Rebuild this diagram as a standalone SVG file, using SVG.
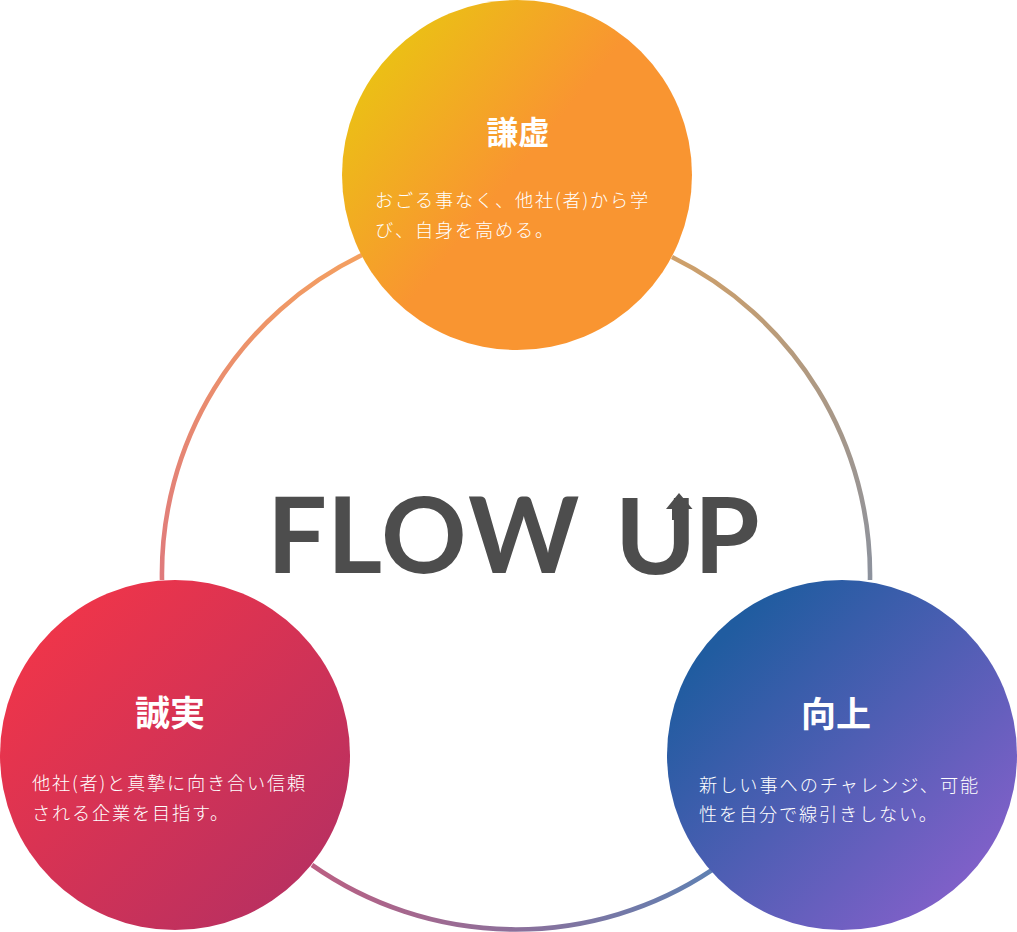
<svg xmlns="http://www.w3.org/2000/svg" width="1017" height="932" viewBox="0 0 1017 932">
<style>
.t{font-family:"Noto Sans CJK JP","Noto Sans",sans-serif;fill:#fff;font-weight:700;text-anchor:middle}
.b{font-family:"Noto Sans CJK JP","Noto Sans",sans-serif;fill:#fff;font-size:18.2px;font-weight:300;letter-spacing:1.8px}
.l{font-family:Lato,"Liberation Sans",sans-serif;fill:#4d4d4d;font-size:106px;font-weight:700}
</style>
<defs>
<linearGradient id="gTop" gradientUnits="userSpaceOnUse" x1="380" y1="60" x2="600" y2="240"><stop offset="0" stop-color="#ebc015"/><stop offset=".62" stop-color="#f99531"/></linearGradient>
<linearGradient id="gLeft" gradientUnits="userSpaceOnUse" x1="50" y1="630" x2="300" y2="880"><stop offset="0" stop-color="#ee354a"/><stop offset="1" stop-color="#ba3060"/></linearGradient>
<linearGradient id="gRight" gradientUnits="userSpaceOnUse" x1="720" y1="640" x2="965" y2="880"><stop offset="0" stop-color="#205ca0"/><stop offset="1" stop-color="#7f60c8"/></linearGradient>
<linearGradient id="gRingL" gradientUnits="userSpaceOnUse" x1="360" y1="250" x2="160" y2="580"><stop offset="0" stop-color="#f4a060"/><stop offset="1" stop-color="#df7a7c"/></linearGradient>
<linearGradient id="gRingR" gradientUnits="userSpaceOnUse" x1="672" y1="250" x2="870" y2="580"><stop offset="0" stop-color="#d0a068"/><stop offset="1" stop-color="#8c929e"/></linearGradient>
<linearGradient id="gRingB" gradientUnits="userSpaceOnUse" x1="310" y1="860" x2="712" y2="860"><stop offset="0" stop-color="#bb5f82"/><stop offset="1" stop-color="#5f80b2"/></linearGradient>
</defs>
<g id="connectors" fill="none" stroke-width="4.6">
<path stroke="url(#gRingL)" d="M362 255A354 354 0 0 0 162 580"/>
<path stroke="url(#gRingR)" d="M672 257A354 354 0 0 1 870 580"/>
<path stroke="url(#gRingB)" d="M312 865A354 354 0 0 0 712 870"/>
</g>
<g id="logo">
<text class="l" x="267" y="573">F</text>
<text class="l" x="327" y="573">L</text>
<text class="l" x="381" y="573">O</text>
<text class="l" x="468" y="573">W</text>
<text class="l" transform="translate(614.8,574) scale(1.04,1)">U</text>
<text class="l" x="694" y="573">P</text>
<polygon fill="#4d4d4d" points="679,493 692.5,509 686.5,509 686.5,520 672,520 672,509 666,509"/>
</g>
<g id="node-top">
<circle cx="517" cy="175" r="175" fill="url(#gTop)"/>
<text class="t" x="518" y="144" style="font-size:31.5px">謙虚</text>
<text class="b" x="375" y="207">おごる事なく、他社(者)から学</text>
<text class="b" x="375" y="237">び、自身を高める。</text>
</g>
<g id="node-left">
<circle cx="175" cy="755" r="175" fill="url(#gLeft)"/>
<text class="t" x="170" y="726" style="font-size:35px">誠実</text>
<text class="b" x="32" y="790">他社(者)と真摯に向き合い信頼</text>
<text class="b" x="32" y="820">される企業を目指す。</text>
</g>
<g id="node-right">
<circle cx="842" cy="755" r="175" fill="url(#gRight)"/>
<text class="t" x="836" y="727" style="font-size:35px">向上</text>
<text class="b" x="699" y="792" style="letter-spacing:1.95px">新しい事へのチャレンジ、可能</text>
<text class="b" x="699" y="821">性を自分で線引きしない。</text>
</g>
</svg>
